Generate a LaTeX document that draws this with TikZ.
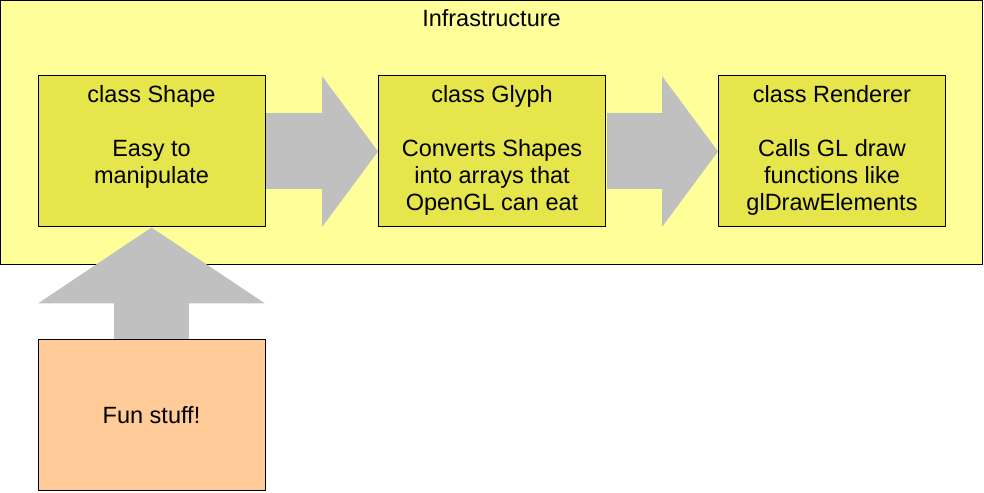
\documentclass[tikz,border=0pt]{standalone}
\usepackage{fontspec}
\setmainfont{Liberation Sans}
\usetikzlibrary{arrows.meta}
\definecolor{infrayellow}{HTML}{FFFF99}
\definecolor{classyellow}{HTML}{E6E64C}
\definecolor{funorange}{HTML}{FFCC99}
\definecolor{arrowgray}{HTML}{C0C0C0}
\newcommand{\diagfont}{\fontsize{23.5}{27}\selectfont}
\tikzset{
    infrabox/.style={
            draw, fill=infrayellow, line width=1pt, inner sep=0pt,
            minimum width=981.5pt, minimum height=264.5pt
        },
    classbox/.style={
            draw, fill=classyellow, line width=1pt, inner sep=0pt,
            minimum width=227pt, minimum height=151pt
        },
    funbox/.style={
            classbox, fill=funorange, font=\diagfont
        },
    classtext/.style={
            anchor=north, align=center, inner sep=0pt, yshift=-10pt, font=\diagfont
        },
    flowarrow/.style={
            arrowgray, line width=76pt,
            -{Triangle[line width=0pt, width=151pt, length=56pt]}
        },
    feedarrow/.style={
            arrowgray, line width=75pt,
            -{Triangle[line width=0pt, width=227pt, length=76pt]}
        }
}

\begin{document}
\begin{tikzpicture}[x=1pt, y=1pt]
        \useasboundingbox (0,0) rectangle (984,492);

        \node[infrabox] (infra) at (491.25,359.25) {};
        \node[font=\diagfont, anchor=base] (infratitle) at (491.5,465.5) {Infrastructure};

        \node[classbox] (shape) at (151.5,340.5) {};
        \node[classbox] (glyph) at (492,340.5) {};
        \node[classbox] (renderer) at (832,340.5) {};
        \node[funbox] (fun) at (151.5,76.5) {Fun stuff!};

        \node[classtext] (shapetext) at (shape.north) {class Shape\\[27pt]Easy to\\manipulate};
        \node[classtext] (glyphtext) at (glyph.north) {class Glyph\\[27pt]Converts Shapes\\into arrays that\\OpenGL can eat};
        \node[classtext] (renderertext) at (renderer.north) {class Renderer\\[27pt]Calls GL draw\\functions like\\glDrawElements};

        % fat gray arrows between the boxes
        \draw[flowarrow, shorten <=0.5pt] (shape.east) -- (glyph.west);
        \draw[flowarrow, shorten <=0.5pt] (glyph.east) -- (renderer.west);
        \draw[feedarrow, shorten <=0.5pt] (fun.north) -- (shape.south);

    \end{tikzpicture}
\end{document}
